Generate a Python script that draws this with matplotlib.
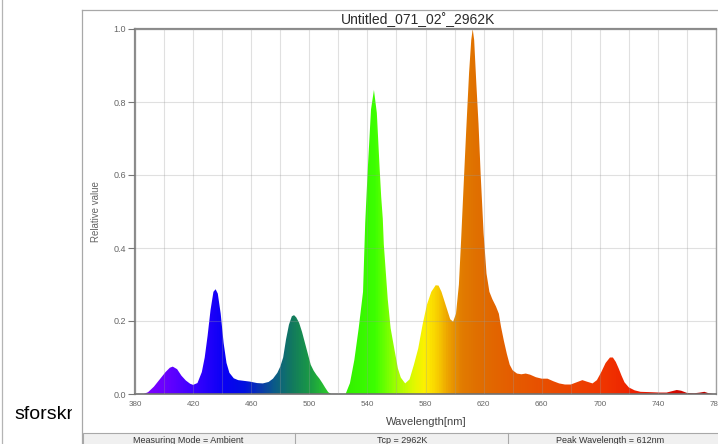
import numpy as np
import matplotlib
matplotlib.use("Agg")
import matplotlib.pyplot as plt
from matplotlib.colors import LinearSegmentedColormap
from matplotlib.patches import Rectangle
from matplotlib.transforms import Bbox, TransformedBbox

# spectrum (nm, relative value)
wavelength = [380, 386, 389, 393, 397, 401, 404, 406, 409, 412, 415, 418, 420, 423,
              426, 428, 430, 432, 434, 435.5, 437, 439, 441, 443, 445, 448, 451, 455,
              459, 464, 468, 472, 475, 478, 480, 482, 484, 486, 488, 489.5, 491, 493,
              495, 497, 499, 501, 503, 505, 507, 509, 511, 513, 515, 525, 528, 531,
              534, 537, 538.5, 540.3, 542.5, 544.5, 546.5, 548.4, 549.5, 550.6, 551.3,
              554, 556, 558.7, 561, 563, 566, 569, 572, 575, 578, 581, 584, 587, 589,
              591, 593, 595, 597, 599, 601, 603, 604.5, 606, 608, 610, 611.5, 612.5,
              613.5, 615, 616.5, 618, 620, 622, 624, 626, 628.5, 630.5, 632, 634, 636,
              638, 640, 643, 646, 649, 652, 656, 660, 664, 668, 672, 676, 680, 684, 688,
              691, 695, 698, 701, 704, 707, 709, 711, 713, 715, 717, 720, 724, 728, 735,
              741, 746, 750, 753, 756, 760, 765, 769, 772, 775, 778, 780]
relative = [0, 0, 0.005, 0.02, 0.04, 0.06, 0.072, 0.075, 0.068, 0.05, 0.037, 0.028, 0.025, 0.03,
            0.06, 0.1, 0.16, 0.23, 0.28, 0.287, 0.275, 0.22, 0.14, 0.085, 0.058, 0.043, 0.038, 0.036,
            0.034, 0.03, 0.029, 0.033, 0.042, 0.058, 0.075, 0.1, 0.15, 0.19, 0.213, 0.216, 0.21, 0.195,
            0.17, 0.14, 0.11, 0.08, 0.064, 0.052, 0.042, 0.03, 0.017, 0.005, 0, 0, 0.03, 0.093,
            0.18, 0.28, 0.47, 0.62, 0.78, 0.833, 0.77, 0.62, 0.54, 0.48, 0.41,
            0.26, 0.18, 0.12, 0.07, 0.045, 0.029, 0.04, 0.08, 0.125, 0.19, 0.245, 0.28, 0.298, 0.297,
            0.28, 0.255, 0.23, 0.205, 0.198, 0.22, 0.3, 0.42, 0.55, 0.72, 0.88, 0.97, 1.0,
            0.97, 0.85, 0.74, 0.6, 0.44, 0.33, 0.28, 0.26, 0.24, 0.22, 0.184, 0.145, 0.11,
            0.08, 0.065, 0.056, 0.054, 0.056, 0.053, 0.046, 0.042, 0.042, 0.035, 0.029, 0.026, 0.026, 0.032, 0.038,
            0.034, 0.029, 0.038, 0.06, 0.085, 0.1, 0.1, 0.088, 0.07, 0.05, 0.032, 0.018, 0.01, 0.006, 0.005,
            0.004, 0.004, 0.008, 0.011, 0.009, 0.003, 0.002, 0.004, 0.006, 0.002, 0, 0]

# colour of the fill along the wavelength axis
color_nm = [380, 400, 420, 440, 455, 465, 475, 488, 500, 510, 525, 545, 560, 572,
            580, 588, 596, 605, 615, 640, 670, 700, 725, 750, 780]
color_hex = ['#8a00ff', '#6a00ff', '#3a00ff', '#0a00f5', '#0010e0', '#0a35b0', '#0b5a8a',
             '#127a5e', '#1a9a45', '#28c030', '#33f000', '#3cff00', '#a0ff00', '#e2f800',
             '#fff000', '#f8d000', '#eca000', '#e27c00', '#e07000', '#e55c00', '#ea4a00',
             '#f03800', '#ee2000', '#d80a00', '#b00000']

x_labels = [380, 420, 460, 500, 540, 580, 620, 660, 700, 740, 780]
x_grid = list(range(380, 781, 20))
y_labels = [0.0, 0.2, 0.4, 0.6, 0.8, 1.0]

title = "Untitled_071_02\u02da_2962K"
status = ["Measuring Mode = Ambient", "Tcp = 2962K", "Peak Wavelength = 612nm"]

plt.rcParams['font.family'] = ['Liberation Sans', 'DejaVu Sans']

W, H = 718, 444
fig = plt.figure(figsize=(W / 100, H / 100), dpi=100)

# window chrome drawn in pixel coordinates
bg = fig.add_axes([0, 0, 1, 1])
bg.set_xlim(0, W)
bg.set_ylim(H, 0)
bg.axis('off')
bg.plot([2, 2], [0, H], color='#b4b4b4', lw=0.9)
bg.plot([82, 82], [10, H], color='#a8a8a8', lw=0.9)
bg.plot([82, W], [10, 10], color='#a8a8a8', lw=0.9)
bg.add_patch(Rectangle((82.5, 433), W - 82, 12, facecolor='#f0f0f0',
                       edgecolor='#a8a8a8', lw=0.8))
for xs in (295, 508):
    bg.plot([xs, xs], [433, H], color='#a8a8a8', lw=0.8)
for xc, s in zip((188, 402, 610), status):
    bg.text(xc, 440.5, s, ha='center', va='center', fontsize=6.5, color='#333333')
bg.text(418, 19.5, title, ha='center', va='center', fontsize=10, color='#2a2a2a')
side = bg.text(14, 419, 'sforskning', fontsize=14, color='black', va='baseline')
side.set_clip_box(TransformedBbox(Bbox.from_extents(0, 0, 72, H), bg.transData))
side.set_clip_on(True)

ax = fig.add_axes([135 / W, (H - 394) / H, (716 - 135) / W, (394 - 29) / H])
ax.set_xlim(380, 780)
ax.set_ylim(0, 1)

cmap = LinearSegmentedColormap.from_list(
    'spec', [((n - 380) / 400, c) for n, c in zip(color_nm, color_hex)])
ramp = np.linspace(380, 780, 1200).reshape(1, -1)
shape = ax.fill_between(wavelength, relative, color='none', lw=0)
im = ax.imshow(ramp, extent=[380, 780, 0, 1], aspect='auto', cmap=cmap,
               vmin=380, vmax=780, origin='lower', zorder=1, interpolation='bilinear')
im.set_clip_path(shape.get_paths()[0], transform=ax.transData)

ax.set_xticks(x_labels)
ax.set_xticks(x_grid, minor=True)
ax.set_yticks(y_labels)
ax.set_yticklabels([f"{v:.1f}" for v in y_labels])
ax.set_axisbelow(False)
ax.grid(which='both', color='#9a9a9a', lw=0.8, alpha=0.3)
ax.tick_params(axis='x', which='both', length=0, labelsize=5.8,
               labelcolor='#666666', pad=5)
ax.tick_params(axis='y', length=5, width=0.8, color='#777777', labelsize=6.5,
               labelcolor='#666666', pad=1.5)

for side_name, col, lw in (('left', '#8a8a8a', 1.6), ('top', '#8a8a8a', 1.6),
                           ('bottom', '#707070', 1.2), ('right', '#a0a0a0', 1.0)):
    ax.spines[side_name].set_color(col)
    ax.spines[side_name].set_linewidth(lw)

ax.set_xlabel('Wavelength[nm]', fontsize=8, color='#444444')
ax.xaxis.set_label_coords((426 - 135) / 581, -(417 - 394) / 365)
ax.set_ylabel('Relative value', fontsize=7, color='#666666')
ax.yaxis.set_label_coords(-(135 - 101) / 581, 0.5)

fig.savefig('out.png', dpi=100)
